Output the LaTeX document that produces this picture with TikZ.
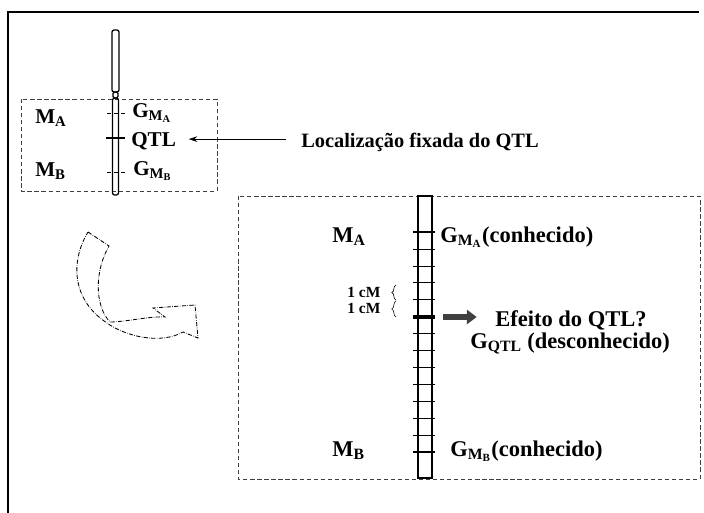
\documentclass[tikz,border=0pt]{standalone}
\usepackage{fontspec}
\setmainfont{Liberation Serif}
\usetikzlibrary{arrows.meta,decorations.pathreplacing}
\newcommand{\GM}[1]{G\textsubscript{M\textsubscript{#1}}}

\begin{document}
\begin{tikzpicture}[x=0.025cm,y=-0.025cm,
  lbl/.style={font=\fontsize{15}{18}\selectfont\bfseries,inner sep=0pt,anchor=base west},
  biglbl/.style={lbl,font=\fontsize{16}{19}\selectfont\bfseries},
  cmlbl/.style={lbl,font=\fontsize{11}{13}\selectfont\bfseries},
  region/.style={densely dashed,black!75,line width=0.7pt},
  chromo/.style={line width=0.9pt},
  marker/.style={line width=1.4pt}]
  \useasboundingbox (0,0) rectangle (704,513);
  % Outer frame
  \draw[line width=1.2pt] (8,513) -- (8,12) -- (699,12);
  % Small chromosome with the two flanking markers
  \draw[region] (21,99) rectangle (217,191);
  \draw[chromo,rounded corners=1.5] (112,30) rectangle (119,92);
  \draw[chromo,rounded corners=1] (113,92) rectangle (118,98);
  \draw[chromo,rounded corners=1.5] (112.5,98) rectangle (118.5,195);
  \draw[thin,densely dashed] (107,113) -- (125,113);
  \draw[line width=1.6pt] (106,138) -- (125,138);
  \draw[thin,densely dashed] (107,172) -- (125,172);
  \node[lbl] (mA) at (35,123) {M\textsubscript{A}};
  \node[lbl] (gA) at (132,117) {\GM{A}};
  \node[lbl] (qtl) at (131,146) {QTL};
  \node[lbl] (mB) at (35,176) {M\textsubscript{B}};
  \node[lbl] (gB) at (133,175) {\GM{B}};
  \node[lbl,font=\fontsize{14.5}{17}\selectfont\bfseries] (loc) at (301,147) {Localização fixada do QTL};
  \draw[-{Stealth[length=6pt,width=4pt]},line width=0.6pt,shorten <=11pt,shorten >=9pt]
    ([yshift=2pt]loc.west) -- ([yshift=2pt]loc.west -| qtl.east);
  % Curved arrow
  \draw[densely dashdotted,line width=0.6pt] (88,232) -- (109,246)
    .. controls (95,270) and (94,305) .. (110,322)
    .. controls (125,322) and (150,316) .. (165,317)
    -- (153,308) -- (195,305) -- (198,338) -- (183,332)
    .. controls (160,345) and (125,336) .. (107,323)
    .. controls (72,300) and (70,262) .. cycle;
  % Enlarged interval, 1 cM steps
  \draw[region] (238,196) rectangle (700,479);
  \draw[chromo] (418,196) rectangle (432,478);
  \foreach \i in {1,2,3,4,6,7,8,9,10,11,12}
    \draw[thin] (413,{232+16.9*\i}) -- (435,{232+16.9*\i});
  \draw[marker] (413,232) -- (435,232);
  \draw[marker] (413,451.7) -- (435,451.7);
  \draw[line width=2.6pt] (413,317) -- (435,317);
  \coordinate (tq) at (435,317);
  \draw[decorate,decoration={brace,amplitude=3pt},thin] (396,300) -- (396,285);
  \draw[decorate,decoration={brace,amplitude=3pt},thin] (396,317) -- (396,301);
  \node[cmlbl] (cm1) at (347,297) {1 cM};
  \node[cmlbl] (cm2) at (347,313) {1 cM};
  \node[biglbl] (mA2) at (332,242) {M\textsubscript{A}};
  \node[biglbl] (gA2) at (440,242) {\GM{A}(conhecido)};
  \node[biglbl] (ef) at (495,326) {Efeito do QTL?};
  \node[biglbl] (gq) at (470,348) {G\textsubscript{QTL} (desconhecido)};
  \node[biglbl] (mB2) at (332,456) {M\textsubscript{B}};
  \node[biglbl] (gB2) at (450,456) {\GM{B}(conhecido)};
  \draw[-{Triangle[length=7pt,width=10pt]},line width=4.5pt,black!75,shorten <=6pt,shorten >=13pt]
    (tq) -- (tq -| ef.west);
\end{tikzpicture}
\end{document}
